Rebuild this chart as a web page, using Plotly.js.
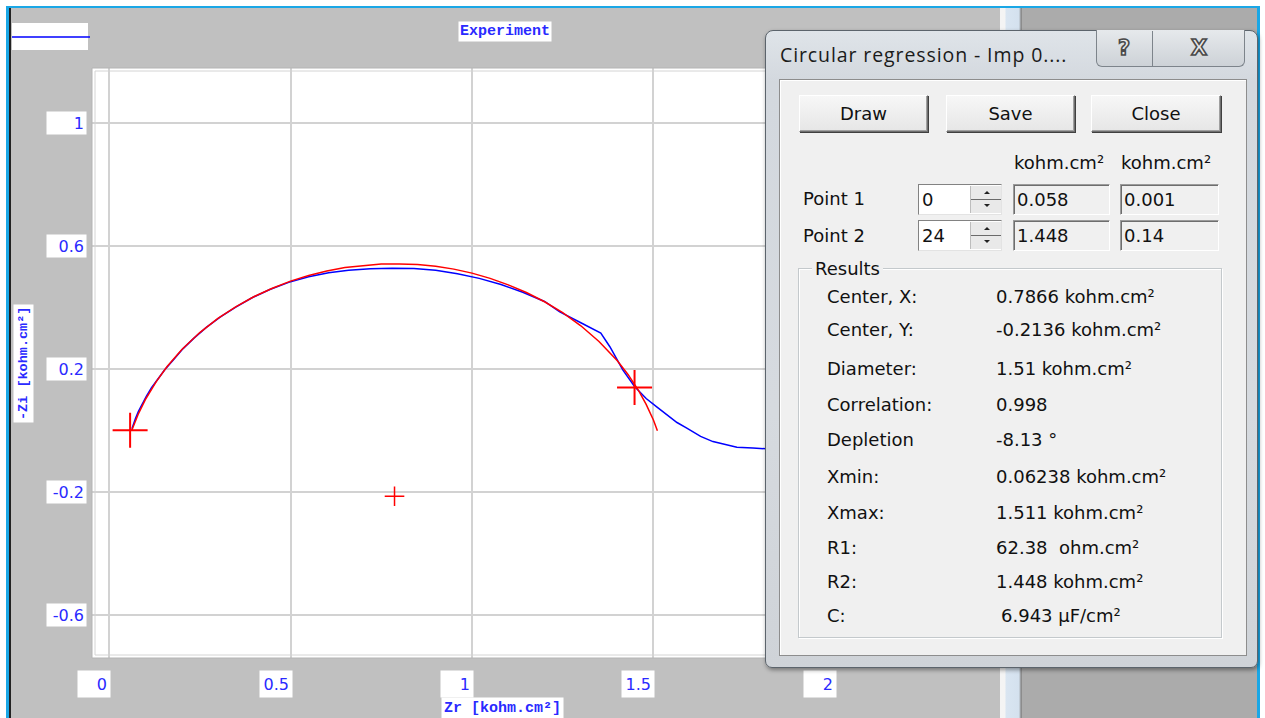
<!DOCTYPE html>
<html>
<head>
<meta charset="utf-8">
<script src="https://cdn.plot.ly/plotly-3.0.1.min.js"></script>
<style>
  html, body { margin:0; padding:0; background:#ffffff; }
  #wrap { position:relative; width:1265px; height:718px; overflow:hidden; }
  #chart { position:absolute; left:0; top:0; width:1265px; height:718px; }
  .ov { position:absolute; pointer-events:none; }
  .dt { position:absolute; font-family:"DejaVu Sans", sans-serif; font-size:18px; color:#111; height:26px; line-height:26px; white-space:pre; }
  .btn { position:absolute; height:37px; box-sizing:border-box; background:linear-gradient(#f7f7f7,#e6e6e6);
         border:1px solid #6f6f6f; border-top-color:#ffffff; border-left-color:#ffffff;
         box-shadow: inset -1px -1px 0 #a0a0a0, 1px 1px 0 #404040;
         font-family:"DejaVu Sans", sans-serif; font-size:18px; color:#111; text-align:center; line-height:35px; }
  .spin { position:absolute; width:84px; height:31px; box-sizing:border-box; background:#fff;
          border:1px solid #828282; border-right-color:#e3e3e3; border-bottom-color:#e3e3e3; }
  .spin .v { position:absolute; left:3px; top:0; font-family:"DejaVu Sans", sans-serif; font-size:18px; line-height:29px; color:#111; }
  .spin .arr { position:absolute; left:51px; top:1px; width:30px; height:27px; background:#e9e9e9; border-left:1px solid #bdbdbd; }
  .spin .arr .h { position:absolute; left:0; right:0; top:13px; height:1px; background:#6a6a6a; }
  .spin .arr .u { position:absolute; left:13px; top:5px; width:0; height:0; border-left:3px solid transparent; border-right:3px solid transparent; border-bottom:3px solid #222; }
  .spin .arr .d { position:absolute; left:13px; top:18px; width:0; height:0; border-left:3px solid transparent; border-right:3px solid transparent; border-top:3px solid #222; }
  .ro { position:absolute; height:31px; box-sizing:border-box; background:#f0f0f0;
        border:1px solid #9b9b9b; border-right-color:#ffffff; border-bottom-color:#ffffff;
        box-shadow: inset 1px 1px 0 #6e6e6e;
        font-family:"DejaVu Sans", sans-serif; font-size:18px; line-height:29px; color:#111; padding-left:3px; }
</style>
</head>
<body>
<div id="wrap">
  <div id="chart"></div>

  <!-- window frame around the chart -->
  <div class="ov" style="left:0;top:0;width:1265px;height:6px;background:#ffffff;"></div>
  <div class="ov" style="left:0;top:0;width:6px;height:718px;background:#ffffff;"></div>
  <div class="ov" style="left:6px;top:6px;width:1254px;height:2px;background:#1aa7e6;"></div>
  <div class="ov" style="left:6px;top:6px;width:3px;height:712px;background:#1aa7e6;"></div>
  <div class="ov" style="left:9px;top:8px;width:2px;height:710px;background:#222;"></div>
  <div class="ov" style="left:1000px;top:8px;width:22px;height:710px;background:linear-gradient(90deg,#f4f4f4 0px,#f4f4f4 5px,#d9e5f1 6px,#d4e1ee 19px,#8c8c8c 21px);"></div>
  <div class="ov" style="left:1022px;top:8px;width:235px;height:710px;background:#ababab;"></div>
  <div class="ov" style="left:1257px;top:6px;width:3px;height:712px;background:#1aa7e6;"></div>
  <div class="ov" style="left:1260px;top:0;width:5px;height:718px;background:#ffffff;"></div>

  <!-- dialog -->
  <div class="ov" id="dlg" style="left:765px;top:30px;width:493px;height:638px;box-sizing:border-box;border-radius:8px 8px 7px 7px;
       background:linear-gradient(180deg,#dfe4e9 0%,#d3d8de 8%,#d6dadf 60%,#cfd3d8 100%);border:1px solid #5c646c;box-shadow:1px 2px 4px rgba(0,0,0,0.4);">
    <div style="position:absolute;left:14px;top:12px;font-family:'Open Sans','Noto Sans',sans-serif;font-size:19.5px;letter-spacing:0.9px;color:#1b1b1b;white-space:pre;line-height:24px;">Circular regression - Imp 0....</div>
    <div style="position:absolute;left:330px;top:-1px;width:149px;height:37px;box-sizing:border-box;border:1px solid #7d848b;border-top:none;border-radius:0 0 6px 6px;background:linear-gradient(#e6e9ec,#cdd2d7);"></div>
    <div style="position:absolute;left:386px;top:0px;width:1px;height:36px;background:#7d848b;"></div>
    <div style="position:absolute;left:330px;top:2px;width:56px;height:30px;text-align:center;font-family:'DejaVu Sans',sans-serif;font-weight:bold;font-size:21px;line-height:30px;color:#e8e8e8;-webkit-text-stroke:1.6px #4a4a4a;">?</div>
    <div style="position:absolute;left:387px;top:2px;width:92px;height:30px;text-align:center;font-family:'DejaVu Sans',sans-serif;font-weight:bold;font-size:21px;line-height:30px;color:#e8e8e8;-webkit-text-stroke:1.6px #4a4a4a;">X</div>

    <div style="position:absolute;left:13px;top:48px;width:468px;height:577px;box-sizing:border-box;background:#f0f0f0;border:1px solid #8d8d8d;box-shadow:inset 1px 1px 0 #ffffff;">
      <div class="btn" style="left:19px;top:15px;width:129px;">Draw</div>
      <div class="btn" style="left:166px;top:15px;width:129px;">Save</div>
      <div class="btn" style="left:311px;top:15px;width:130px;">Close</div>

      <div class="dt" style="left:234px;top:70px;">kohm.cm²</div>
      <div class="dt" style="left:341px;top:70px;">kohm.cm²</div>

      <div class="dt" style="left:23px;top:106px;">Point 1</div>
      <div class="dt" style="left:23px;top:143px;">Point 2</div>

      <div class="spin" style="left:138px;top:104px;"><div class="v">0</div><div class="arr"><div class="u"></div><div class="h"></div><div class="d"></div></div></div>
      <div class="spin" style="left:138px;top:140px;"><div class="v">24</div><div class="arr"><div class="u"></div><div class="h"></div><div class="d"></div></div></div>

      <div class="ro" style="left:233px;top:104px;width:97px;">0.058</div>
      <div class="ro" style="left:340px;top:104px;width:99px;">0.001</div>
      <div class="ro" style="left:233px;top:140px;width:97px;">1.448</div>
      <div class="ro" style="left:340px;top:140px;width:99px;">0.14</div>

      <div style="position:absolute;left:18px;top:188px;width:424px;height:370px;box-sizing:border-box;border:1px solid #c4c9cc;box-shadow:inset 1px 1px 0 #ffffff, 1px 1px 0 #ffffff;"></div>
      <div class="dt" style="left:32px;top:176px;background:#f0f0f0;padding:0 3px;">Results</div>

      <div class="dt" style="left:47px;top:204px;">Center, X:</div>
      <div class="dt" style="left:216px;top:204px;">0.7866 kohm.cm²</div>
      <div class="dt" style="left:47px;top:237px;">Center, Y:</div>
      <div class="dt" style="left:216px;top:237px;">-0.2136 kohm.cm²</div>
      <div class="dt" style="left:47px;top:276px;">Diameter:</div>
      <div class="dt" style="left:216px;top:276px;">1.51 kohm.cm²</div>
      <div class="dt" style="left:47px;top:312px;">Correlation:</div>
      <div class="dt" style="left:216px;top:312px;">0.998</div>
      <div class="dt" style="left:47px;top:347px;">Depletion</div>
      <div class="dt" style="left:216px;top:347px;">-8.13 °</div>
      <div class="dt" style="left:47px;top:384px;">Xmin:</div>
      <div class="dt" style="left:216px;top:384px;">0.06238 kohm.cm²</div>
      <div class="dt" style="left:47px;top:420px;">Xmax:</div>
      <div class="dt" style="left:216px;top:420px;">1.511 kohm.cm²</div>
      <div class="dt" style="left:47px;top:455px;">R1:</div>
      <div class="dt" style="left:216px;top:455px;">62.38  ohm.cm²</div>
      <div class="dt" style="left:47px;top:489px;">R2:</div>
      <div class="dt" style="left:216px;top:489px;">1.448 kohm.cm²</div>
      <div class="dt" style="left:47px;top:523px;">C:</div>
      <div class="dt" style="left:221px;top:523px;">6.943 µF/cm²</div>
    </div>
  </div>
</div>

<script>
// ---- data ----
const xTickVals = [0, 0.5, 1, 1.5, 2];
const xTickText = ['0', '0.5', '1', '1.5', '2'];
const yTickVals = [1, 0.6, 0.2, -0.2, -0.6];
const yTickText = ['1', '0.6', '0.2', '-0.2', '-0.6'];

// Experiment (blue)
const expZr = [0.063, 0.067, 0.073, 0.081, 0.091, 0.103, 0.117, 0.134, 0.154, 0.177,
               0.204, 0.234, 0.268, 0.306, 0.348, 0.394, 0.443, 0.495, 0.55, 0.605,
               0.66, 0.72, 0.78, 0.84, 0.90, 0.96, 1.02, 1.08, 1.14, 1.20,
               1.242, 1.30, 1.335, 1.355, 1.38, 1.416, 1.448, 1.48, 1.51, 1.54,
               1.565, 1.592, 1.63, 1.664, 1.70, 1.73, 1.774, 1.81, 1.85];
const expZi = [0.006, 0.022, 0.040, 0.062, 0.086, 0.112, 0.139, 0.168, 0.198, 0.229,
               0.266, 0.300, 0.335, 0.368, 0.400, 0.431, 0.458, 0.481, 0.499, 0.512,
               0.520, 0.525, 0.527, 0.526, 0.520, 0.509, 0.494, 0.474, 0.449, 0.419,
               0.385, 0.350, 0.330, 0.316, 0.272, 0.196, 0.143, 0.104, 0.076, 0.050,
               0.026, 0.008, -0.019, -0.036, -0.047, -0.054, -0.057, -0.060, -0.062];

// Fitted circle arc (red)
const fitZr = [0.0624, 0.07, 0.08, 0.10, 0.13, 0.16, 0.20, 0.25, 0.30, 0.35,
               0.40, 0.45, 0.50, 0.55, 0.60, 0.65, 0.70, 0.75, 0.80, 0.85,
               0.90, 0.95, 1.00, 1.05, 1.10, 1.15, 1.20, 1.25, 1.30, 1.35,
               1.40, 1.43, 1.46, 1.48, 1.50, 1.511];
const fitZi = [0.000, 0.024, 0.052, 0.100, 0.159, 0.208, 0.262, 0.318, 0.364, 0.402,
               0.435, 0.462, 0.485, 0.503, 0.518, 0.529, 0.536, 0.541, 0.541, 0.539,
               0.533, 0.524, 0.511, 0.494, 0.473, 0.448, 0.418, 0.383, 0.340, 0.289,
               0.227, 0.182, 0.128, 0.085, 0.034, -0.001];

// Selected points and circle centre
const selZr = [0.058, 1.448];
const selZi = [0.001, 0.14];
const centerZr = [0.7866];
const centerZi = [-0.2136];

const legendName = 'Experiment';
const xTitle = 'Zr [kohm.cm²]';
const yTitle = '-Zi [kohm.cm²]';

// ---- figure ----
const blue = '#2a2aff';
const traces = [
  { x: expZr, y: expZi, mode: 'lines', line: { color: '#0000ff', width: 1.5 }, name: legendName, hoverinfo: 'skip' },
  { x: fitZr, y: fitZi, mode: 'lines', line: { color: '#ff0000', width: 1.5 }, hoverinfo: 'skip' },
  { x: selZr, y: selZi, mode: 'markers', marker: { symbol: 'cross-thin', size: 25, color: '#ff0000', line: { color: '#ff0000', width: 2 } }, hoverinfo: 'skip' },
  { x: centerZr, y: centerZi, mode: 'markers', marker: { symbol: 'cross-thin', size: 14, color: '#ff0000', line: { color: '#ff0000', width: 1.5 } }, hoverinfo: 'skip' }
];

const annotations = [];
xTickVals.forEach((v, i) => annotations.push({
  xref: 'x', yref: 'paper', x: v, y: -0.0441, xanchor: 'right', yanchor: 'middle', xshift: 2,
  text: xTickText[i], showarrow: false, bgcolor: '#ffffff', borderpad: 3, width: 26, height: 20, align: 'right',
  font: { family: 'DejaVu Sans, sans-serif', size: 16, color: blue }
}));
yTickVals.forEach((v, i) => annotations.push({
  xref: 'paper', yref: 'y', x: -0.0055, y: v, xanchor: 'right', yanchor: 'middle',
  text: yTickText[i], showarrow: false, bgcolor: '#ffffff', borderpad: 2, width: 35, height: 18, align: 'right',
  font: { family: 'DejaVu Sans, sans-serif', size: 16, color: blue }
}));
annotations.push({
  xref: 'paper', yref: 'paper', x: 0.4526, y: -0.0864, xanchor: 'center', yanchor: 'middle',
  text: '<b>' + xTitle + '</b>', showarrow: false, bgcolor: '#ffffff', borderpad: 2,
  font: { family: 'Liberation Mono, Courier New, monospace', size: 15, color: blue }
});
annotations.push({
  xref: 'paper', yref: 'paper', x: -0.076, y: 0.5, xanchor: 'center', yanchor: 'middle', textangle: -90,
  text: '<b>' + yTitle + '</b>', showarrow: false, bgcolor: '#ffffff', borderpad: 2,
  font: { family: 'Liberation Mono, Courier New, monospace', size: 13.5, color: blue }
});
annotations.push({
  xref: 'paper', yref: 'paper', x: 0.4548, y: 1.0627, xanchor: 'center', yanchor: 'middle',
  text: '<b>' + legendName + '</b>', showarrow: false, bgcolor: '#ffffff', borderpad: 1,
  font: { family: 'Liberation Mono, Courier New, monospace', size: 15, color: blue }
});

const W = 908, H = 590;
const shapes = [
  { type: 'rect', xref: 'paper', yref: 'paper', x0: 0, x1: 1, y0: 0, y1: 1, line: { color: '#b4b4b4', width: 1 }, layer: 'above' },
  { type: 'rect', xref: 'paper', yref: 'paper', x0: 3 / W, x1: 1 - 3 / W, y0: 3 / H, y1: 1 - 3 / H, line: { color: '#d4d4d4', width: 1 }, layer: 'below' },
  // legend box with line sample
  { type: 'rect', xref: 'paper', yref: 'paper', x0: (12 - 92) / W, x1: (88 - 92) / W, y0: (658 - 50) / H, y1: (658 - 23) / H, fillcolor: '#ffffff', line: { width: 0 } },
  { type: 'line', xref: 'paper', yref: 'paper', x0: (12 - 92) / W, x1: (90 - 92) / W, y0: (658 - 37) / H, y1: (658 - 37) / H, line: { color: '#0000ff', width: 1.5 } }
];

const layout = {
  width: 1265, height: 718,
  margin: { l: 92, r: 265, t: 68, b: 60 },
  paper_bgcolor: '#c0c0c0', plot_bgcolor: '#ffffff',
  showlegend: false,
  xaxis: { range: [-0.047, 2.455], tickvals: xTickVals, showticklabels: false, ticks: '',
           showgrid: true, gridcolor: '#d2d2d2', gridwidth: 2, zeroline: false, showline: false, fixedrange: true },
  yaxis: { range: [-0.7386, 1.177], tickvals: yTickVals, showticklabels: false, ticks: '',
           showgrid: true, gridcolor: '#d2d2d2', gridwidth: 2, zeroline: false, showline: false, fixedrange: true },
  annotations: annotations,
  shapes: shapes
};

Plotly.newPlot('chart', traces, layout, { staticPlot: true, displayModeBar: false });
</script>
</body>
</html>
